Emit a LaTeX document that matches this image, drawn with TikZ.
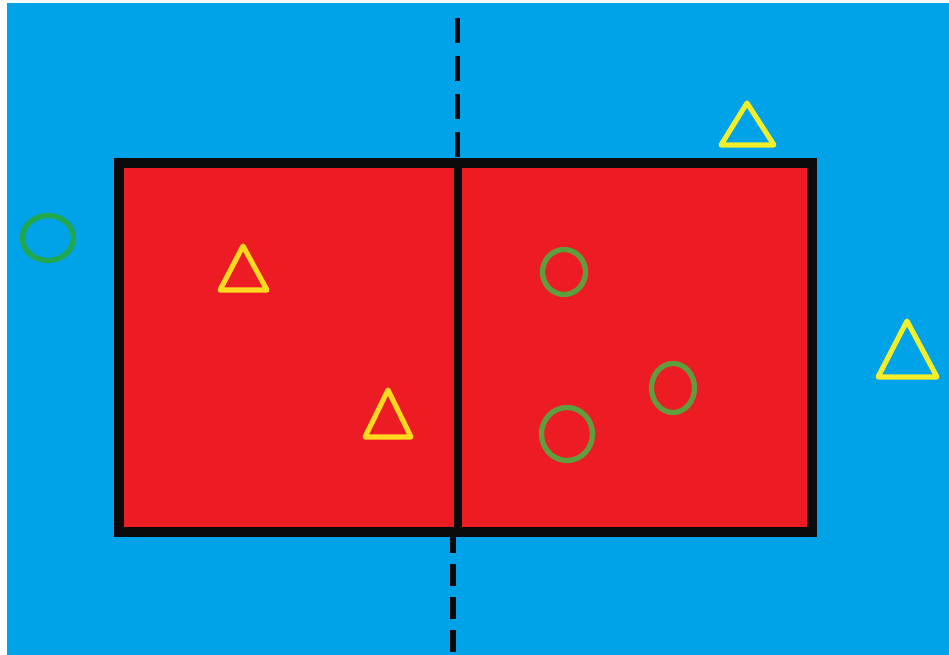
\documentclass[tikz,border=0pt]{standalone}
\usepackage{tikz}
\definecolor{sky}{HTML}{00A2E8}
\definecolor{field}{HTML}{ED1C24}
\definecolor{edge}{HTML}{0A0A0A}
\definecolor{tri}{HTML}{F2EE2A}
\definecolor{triin}{HTML}{FFD820}
\definecolor{ring}{HTML}{22A84C}
\definecolor{ringin}{HTML}{5E9E3C}

\begin{document}
\begin{tikzpicture}[
  x=0.02cm,y=-0.02cm,
  frame/.style={draw=edge,line width=5.6pt,line join=miter},
  split/.style={draw=edge,line width=3.4pt},
  tmark/.style={draw=tri,line width=2.9pt,line join=round},
  tmarkin/.style={draw=triin,line width=2.9pt,line join=round},
  cmark/.style={draw=ring,line width=3pt},
  cmarkin/.style={draw=ringin,line width=3pt}
]
\useasboundingbox (0,0) rectangle (949,655);
% background
\fill[white] (0,0) rectangle (949,655);
\fill[sky] (7,3) rectangle (949,655);

% dashed divider
\draw[split,dash pattern=on 14.2pt off 7.4pt] (457.5,18) -- (457.5,160);
\draw[split,dash pattern=on 12.5pt off 6.2pt] (453,531) -- (453,655);

% court
\fill[field] (119,163) rectangle (812,532);
\draw[frame] (119,163) rectangle (812,532);
\draw[frame,line width=5pt] (458,163) -- (458,532);

% triangles
\draw[tmarkin] (243,246) -- (267,290) -- (220,290) -- cycle;
\draw[tmarkin] (388,390) -- (411,437) -- (365,437) -- cycle;
\draw[tmark] (747,103) -- (774,145) -- (721,145) -- cycle;
\draw[tmark] (907,321) -- (937,377) -- (878,377) -- cycle;

% circles
\draw[cmark] (48,238) ellipse [x radius=25.5,y radius=22.5];
\draw[cmarkin] (564,272) ellipse [x radius=21.5,y radius=22.5];
\draw[cmarkin] (673,388) ellipse [x radius=21.5,y radius=24.5];
\draw[cmarkin] (567,434) ellipse [x radius=25.5,y radius=26.5];
\end{tikzpicture}
\end{document}
